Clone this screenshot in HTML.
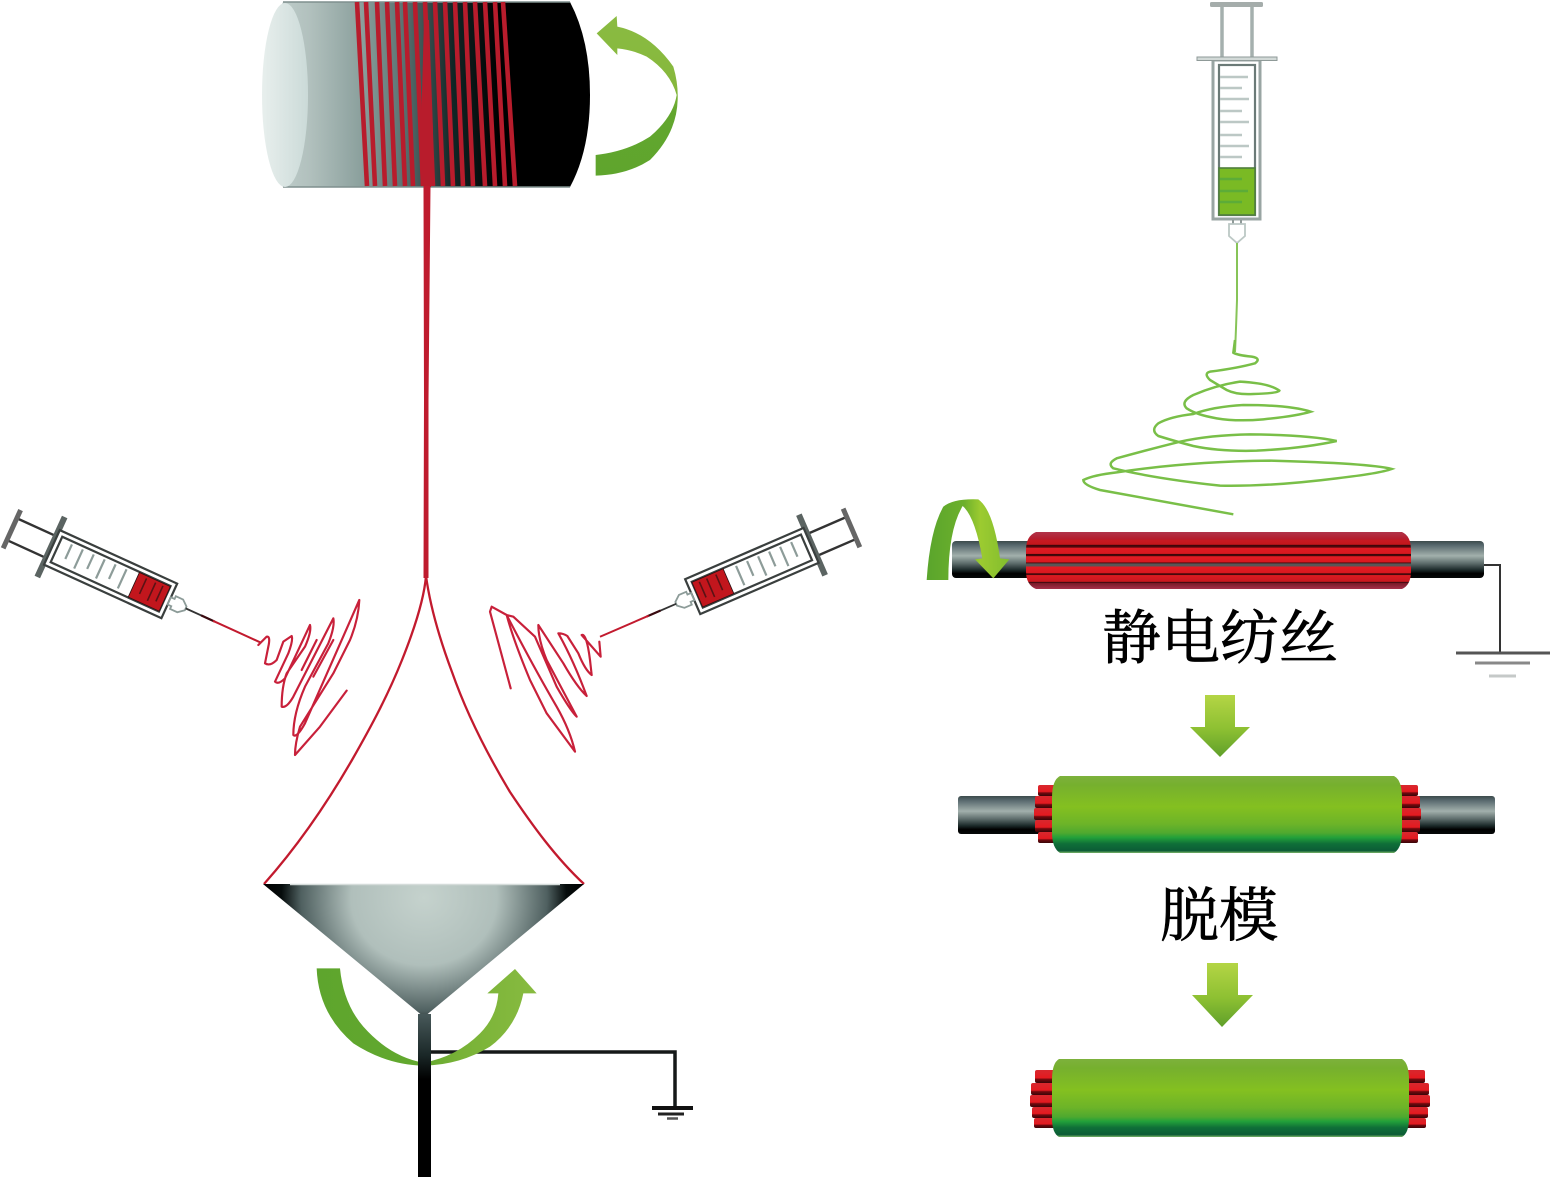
<!DOCTYPE html>
<html lang="zh"><head><meta charset="utf-8"><style>
html,body{margin:0;padding:0;background:#fff;width:1552px;height:1182px;overflow:hidden}
svg{display:block}
text{font-family:"Liberation Serif","Noto Serif CJK SC",serif;fill:#000;stroke:#000;stroke-width:.7px}
</style></head><body>
<svg width="1552" height="1182" viewBox="0 0 1552 1182" xmlns="http://www.w3.org/2000/svg">
<defs>
<linearGradient id="drum" gradientUnits="userSpaceOnUse" x1="263" x2="590" y1="0" y2="0">
<stop offset="0" stop-color="#c4d2d0"/><stop offset=".14" stop-color="#b2c1be"/><stop offset=".3" stop-color="#8ba09d"/><stop offset=".42" stop-color="#5e7675"/><stop offset=".58" stop-color="#112626"/><stop offset=".72" stop-color="#000"/><stop offset="1" stop-color="#000"/></linearGradient>
<linearGradient id="cap" x1="0" x2="1"><stop offset="0" stop-color="#e8efed"/><stop offset="1" stop-color="#cbdad8"/></linearGradient>
<radialGradient id="funnel" gradientUnits="userSpaceOnUse" cx="0" cy="0" r="162" gradientTransform="translate(424,898) scale(1,.92)">
<stop offset="0" stop-color="#c5d2cd"/><stop offset=".45" stop-color="#b0bfbb"/><stop offset=".76" stop-color="#4f6060"/><stop offset=".88" stop-color="#060c0c"/><stop offset="1" stop-color="#000"/></radialGradient>
<linearGradient id="stem" x1="0" x2="0" y1="0" y2="1"><stop offset="0" stop-color="#48595a"/><stop offset=".25" stop-color="#1b2828"/><stop offset=".4" stop-color="#000"/><stop offset="1" stop-color="#000"/></linearGradient>
<linearGradient id="a1" x1="0" x2="0" y1="0" y2="1"><stop offset="0" stop-color="#8abb42"/><stop offset=".45" stop-color="#86b83c"/><stop offset=".6" stop-color="#62a62e"/><stop offset="1" stop-color="#5fa52d"/></linearGradient>
<linearGradient id="a2" x1="0" x2="1" y1="0" y2="0"><stop offset="0" stop-color="#5ea52d"/><stop offset=".45" stop-color="#62a82e"/><stop offset=".65" stop-color="#78b237"/><stop offset="1" stop-color="#88bb40"/></linearGradient>
<linearGradient id="a3" x1="0" x2="1" y1="0" y2="0"><stop offset="0" stop-color="#5aa52c"/><stop offset=".45" stop-color="#6cb02c"/><stop offset=".65" stop-color="#9ccb30"/><stop offset="1" stop-color="#82bd2e"/></linearGradient>
<linearGradient id="rod" x1="0" x2="0" y1="0" y2="1">
<stop offset="0" stop-color="#3c4b4b"/><stop offset=".1" stop-color="#54656a"/><stop offset=".4" stop-color="#a2b0ac"/><stop offset=".6" stop-color="#5f6e6d"/><stop offset=".78" stop-color="#1c2a2a"/><stop offset=".88" stop-color="#000"/><stop offset="1" stop-color="#050808"/></linearGradient>
<linearGradient id="redcyl" x1="0" x2="0" y1="0" y2="1">
<stop offset="0" stop-color="#b0344a"/><stop offset=".13" stop-color="#b51c2c"/>
<stop offset=".14" stop-color="#c71a22"/><stop offset=".22" stop-color="#c4161c"/><stop offset=".23" stop-color="#3a0508"/><stop offset=".27" stop-color="#5a0a0e"/>
<stop offset=".28" stop-color="#e01a22"/><stop offset=".38" stop-color="#d8181f"/><stop offset=".39" stop-color="#3a0508"/><stop offset=".42" stop-color="#4a0a0c"/>
<stop offset=".43" stop-color="#e41c24"/><stop offset=".53" stop-color="#d8181f"/><stop offset=".54" stop-color="#3a0a0c"/><stop offset=".56" stop-color="#5a5556"/><stop offset=".6" stop-color="#5a5556"/>
<stop offset=".61" stop-color="#e41c24"/><stop offset=".72" stop-color="#d8181f"/><stop offset=".73" stop-color="#3a0508"/><stop offset=".75" stop-color="#4a0a0c"/>
<stop offset=".76" stop-color="#dc1a20"/><stop offset=".87" stop-color="#c81820"/><stop offset=".88" stop-color="#300508"/><stop offset=".9" stop-color="#7a1a28"/><stop offset="1" stop-color="#a5304a"/></linearGradient>
<linearGradient id="green" x1="0" x2="0" y1="0" y2="1">
<stop offset="0" stop-color="#7db13c"/><stop offset=".12" stop-color="#76b02e"/><stop offset=".4" stop-color="#84c020"/><stop offset=".62" stop-color="#6db428"/><stop offset=".74" stop-color="#4fa92f"/><stop offset=".8" stop-color="#22a03a"/><stop offset=".88" stop-color="#0f6f38"/><stop offset=".97" stop-color="#0c5c36"/><stop offset="1" stop-color="#7bb568"/></linearGradient>
<linearGradient id="tooth" x1="0" x2="0" y1="0" y2="1"><stop offset="0" stop-color="#d8282e"/><stop offset=".6" stop-color="#e41a20"/><stop offset=".72" stop-color="#70090e"/><stop offset="1" stop-color="#3a0508"/></linearGradient>
<linearGradient id="down" x1="0" x2="0" y1="0" y2="1"><stop offset="0" stop-color="#b4d545"/><stop offset=".55" stop-color="#8dc032"/><stop offset="1" stop-color="#5f9f2a"/></linearGradient>

<g id="syr">
<path d="M-43,-12H0M-43,12H0" stroke="#333" stroke-width="2.4" fill="none"/>
<path d="M-43,-21V21" stroke="#666" stroke-width="5"/>
<path d="M0,-33V33" stroke="#5b6462" stroke-width="6"/>
<rect x="1" y="-19" width="129" height="38" fill="#fff" stroke="#3a3f3e" stroke-width="2.2"/>
<rect x="6" y="-14" width="119" height="28" fill="#fff" stroke="#3a3f3e" stroke-width="2.2"/>
<rect x="91" y="-13.5" width="34" height="27" fill="#c2161d" stroke="#2a1012" stroke-width=".8"/>
<path d="M18,-11V5M30,-11V10M42,-11V5M54,-11V10M66,-11V5M78,-11V10" stroke="#8d9c99" stroke-width="2.2"/>
<path d="M100,-11V6M110,-11V9M118,-11V6" stroke="#5a1215" stroke-width="1.6"/>
<path d="M130,-4H134V-7H142L148,-2V2L142,7H134V4H130Z" fill="#fff" stroke="#8d9c99" stroke-width="1.8"/>
<path d="M148,0H176" stroke="#333" stroke-width="1.8"/>
<path d="M165,0H180" stroke="#3a0a10" stroke-width="2.2"/>
<path d="M178,0H231" stroke="#c21a2e" stroke-width="2"/>
</g>
</defs>
<rect width="1552" height="1182" fill="#fff"/>

<!-- drum -->
<path d="M283,2H570Q590,40 590,95Q590,150 570,187H283Q263,150 263,95Q263,40 283,2Z" fill="url(#drum)"/>
<path d="M283,2H570M283,187H570" stroke="#7f8f8e" stroke-width="1.5"/>
<ellipse cx="285" cy="95" rx="23" ry="92" fill="url(#cap)"/>
<g stroke="#b81c2c" stroke-width="4.6" fill="none">
<path d="M357,2L367,186M366,2L375,186M377,2L385,186M387,2L395,186M397,2L405,186M405,2L413,186M415,2L423,186M425,2L433,186M435,2L443,186M445,2L453,186M455,2L463,186M465,2L473,186M475,2L485,186M485,2L495,186M495,2L505,186M503,2L515,186"/>
</g>
<path d="M424,20L429,20L433,130L431,187H424L421,130Z" fill="#b81c2c"/>
<path d="M423.5,186H430.5L428.5,400L428.5,578H423.5L424,400Z" fill="#bf1b2e"/>
<path d="M426,576C424,600 414,630 402,660C388,695 372,725 352,760C326,805 296,848 264,884" fill="none" stroke="#c21a2e" stroke-width="2.3"/>
<path d="M426,576C430,605 440,640 452,672C466,712 486,752 510,792C532,825 556,858 584,884" fill="none" stroke="#c21a2e" stroke-width="2.3"/>

<!-- drum arrow -->
<g transform="translate(250,0) scale(.33333)">
<path d="M1040,100L1100,48L1102,80Q1200,100 1270,200Q1285,250 1283,300Q1280,400 1200,480Q1130,525 1037,527V465Q1130,455 1200,410Q1270,350 1280,285Q1260,215 1190,170Q1150,150 1102,145V165Z" fill="url(#a1)"/>
</g>

<!-- left syringe -->
<use href="#syr" transform="translate(51,547) rotate(24.5)"/>
<g transform="translate(0,500) scale(.33333)" fill="none" stroke="#c8203a" stroke-width="6.5" stroke-linejoin="round" stroke-linecap="round">
<path d="M775,435L800,410Q812,408 805,440L795,490Q810,500 830,480L850,425L875,408Q880,420 865,460L825,545Q835,555 855,535L930,375Q935,395 915,440L860,520Q845,560 845,620Q860,625 880,590L1000,355Q1005,380 985,430L915,560Q880,640 880,705Q890,715 915,670L1078,300Q1075,360 1050,420L1000,520L900,680Q885,730 885,765L960,680L1040,572"/>
<path d="M950,420L905,510M1000,420L940,530"/>
</g>

<!-- right syringe -->
<use href="#syr" transform="translate(812,545) scale(-1,1) rotate(23.4)"/>
<g transform="translate(480,500) scale(.33333)" fill="none" stroke="#c8203a" stroke-width="6.5" stroke-linejoin="round" stroke-linecap="round">
<path d="M358,425L362,470L305,405Q320,400 330,480L335,525Q315,510 295,460L262,408Q250,400 235,400Q280,480 320,588Q290,560 250,490L175,375Q175,420 200,480L290,650Q270,630 230,560L165,410L100,350L80,345Q100,420 150,540L200,640L285,755Q270,690 230,620Q160,500 80,345L35,320L30,335L92,565"/>
</g>

<!-- funnel -->
<path d="M263,884H584L424,1017Z" fill="url(#funnel)"/>
<path d="M290,884.5H560" stroke="#d5dcda" stroke-width="1.5"/>
<path d="M430,1052H675V1107" fill="none" stroke="#151919" stroke-width="3.5"/>
<path d="M652,1108H693" stroke="#111" stroke-width="4"/>
<path d="M658,1114H684" stroke="#222" stroke-width="3"/>
<path d="M667,1118.5H678" stroke="#555" stroke-width="2.5"/>
<g transform="translate(250,870) scale(.33333)">
<path d="M200,295H270Q280,400 340,470Q420,560 520,578Q620,560 690,490Q740,440 745,370H712L795,297L860,370H820Q800,470 720,530Q630,585 522,587Q410,585 310,520Q205,430 200,295Z" fill="url(#a2)"/>
</g>
<rect x="418" y="1014" width="13" height="163" fill="url(#stem)"/>

<!-- right syringe vertical -->
<rect x="1210" y="2" width="53" height="5" rx="1.5" fill="#a5adab"/>
<path d="M1222,7V57M1252,7V57" stroke="#a5b0ae" stroke-width="3.5"/>
<rect x="1213" y="60" width="47" height="159" fill="#fff" stroke="#99a5a3" stroke-width="3"/>
<rect x="1197" y="57" width="80" height="3.5" fill="#d2d9d7" stroke="#8f9a98" stroke-width="1"/>
<rect x="1219" y="65" width="36" height="150" fill="#fff" stroke="#6b7a77" stroke-width="2.2"/>
<rect x="1219" y="168" width="36" height="47" fill="#7aba24" stroke="#4f7f3c" stroke-width="1.6"/>
<path d="M1220,77H1248M1220,88H1242M1220,99H1249M1220,111H1242M1220,122H1249M1220,135H1242M1220,146H1249M1220,157H1242" stroke="#bcc8c5" stroke-width="2.4"/>
<path d="M1220,179H1242M1220,191H1248M1220,202H1242" stroke="#5cac38" stroke-width="2.4"/>
<path d="M1233,220V224M1241,220V224" stroke="#8f9a98" stroke-width="2"/>
<path d="M1229,224H1245V236L1237,243L1229,236Z" fill="#fff" stroke="#bcc8c5" stroke-width="1.8"/>
<path d="M1237,243V300Q1236,330 1235,352" fill="none" stroke="#87c458" stroke-width="2"/>
<g transform="translate(1070,340) scale(.33333)">
<path d="M495,0L490,38Q500,45 545,50Q575,55 555,70Q500,85 420,95Q400,100 420,120L470,150Q500,165 550,162Q625,160 628,152Q600,130 510,125Q440,135 370,165Q330,185 350,205Q380,225 440,235Q500,245 580,238Q680,228 722,215Q660,195 520,195Q430,200 370,222Q300,230 265,250Q240,270 265,288Q320,305 370,318Q450,335 560,332Q700,325 800,303Q720,285 540,283Q420,285 330,305Q230,330 140,355Q110,370 130,385Q250,415 450,437Q600,440 800,415Q930,400 965,387Q900,370 600,362Q350,365 140,397Q70,405 40,420Q40,435 90,450Q250,480 490,523" fill="none" stroke="#79bf48" stroke-width="7.5"/>
</g>

<!-- roller 1 -->
<rect x="952" y="541" width="532" height="37" rx="4" fill="url(#rod)"/>
<path d="M1036,532H1402Q1411,536 1411,550V571Q1411,585 1402,589H1036Q1026,585 1026,571V550Q1026,536 1036,532Z" fill="url(#redcyl)"/>
<path d="M1484,565H1500V652" fill="none" stroke="#333" stroke-width="2"/>
<path d="M1456,653H1550" stroke="#555" stroke-width="3"/>
<path d="M1475,663H1530" stroke="#888" stroke-width="3"/>
<path d="M1489,676H1516" stroke="#c5c9c8" stroke-width="3"/>
<g transform="translate(920,490) scale(.33333)">
<path d="M20,270Q30,120 70,50Q100,25 175,28Q220,60 240,205L268,208L220,265L165,208L187,205Q165,80 128,48Q85,120 85,270Z" fill="url(#a3)"/>
</g>

<text x="1102" y="658.5" font-size="59">静电纺丝</text>

<!-- down arrow 1 -->
<path d="M1205,695H1235V727H1250L1220,757L1190,727H1205Z" fill="url(#down)"/>

<!-- roller 2 -->
<rect x="958" y="796" width="537" height="38" rx="3" fill="url(#rod)"/>
<g fill="url(#tooth)">
<rect x="1038" y="785" width="18" height="11" rx="2"/><rect x="1035" y="796" width="21" height="12" rx="2"/><rect x="1034" y="808" width="22" height="12" rx="2"/><rect x="1035" y="820" width="21" height="12" rx="2"/><rect x="1038" y="832" width="18" height="11" rx="2"/>
<rect x="1398" y="785" width="20" height="11" rx="2"/><rect x="1398" y="796" width="22" height="12" rx="2"/><rect x="1398" y="808" width="23" height="12" rx="2"/><rect x="1398" y="820" width="22" height="12" rx="2"/><rect x="1398" y="832" width="20" height="11" rx="2"/>
</g>
<path d="M1060,776H1394Q1402,780 1402,798V832Q1402,848 1394,853H1060Q1052,848 1052,832V798Q1052,780 1060,776Z" fill="url(#green)"/>

<text x="1160" y="936" font-size="59">脱模</text>

<!-- down arrow 2 -->
<path d="M1207,963H1238V995H1253L1222,1027L1192,995H1207Z" fill="url(#down)"/>

<!-- roller 3 -->
<g fill="url(#tooth)">
<rect x="1035" y="1070" width="22" height="13" rx="2"/><rect x="1031" y="1083" width="26" height="12" rx="2"/><rect x="1030" y="1095" width="27" height="12" rx="2"/><rect x="1032" y="1107" width="25" height="11" rx="2"/><rect x="1034" y="1118" width="23" height="10" rx="2"/>
<rect x="1403" y="1070" width="22" height="13" rx="2"/><rect x="1403" y="1083" width="26" height="12" rx="2"/><rect x="1403" y="1095" width="27" height="12" rx="2"/><rect x="1403" y="1107" width="25" height="11" rx="2"/><rect x="1403" y="1118" width="23" height="10" rx="2"/>
</g>
<path d="M1059,1059H1402Q1409,1063 1409,1080V1118Q1409,1133 1402,1137H1059Q1052,1133 1052,1118V1080Q1052,1063 1059,1059Z" fill="url(#green)"/>
</svg>
</body></html>
